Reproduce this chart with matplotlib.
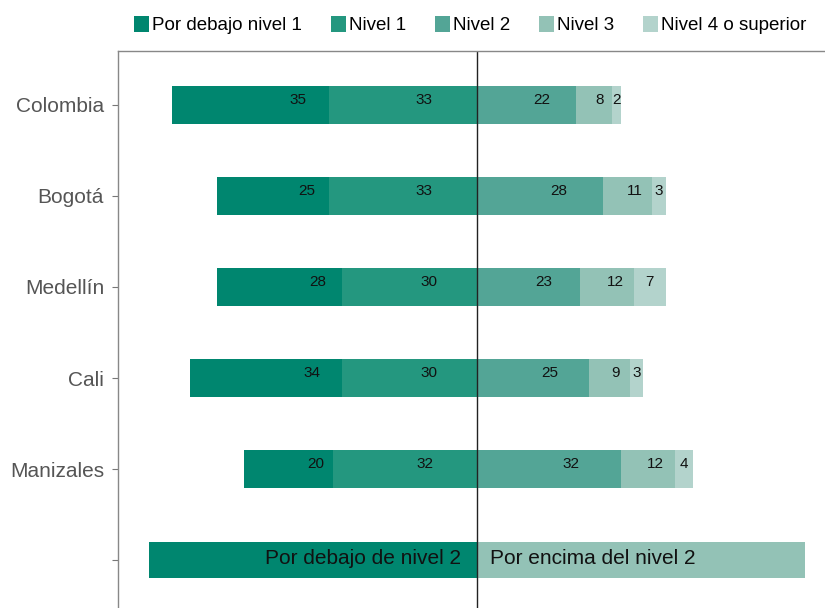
import numpy as np
import matplotlib
matplotlib.use("Agg")
import matplotlib.pyplot as plt
from matplotlib.patches import Patch

plt.rcParams['font.family'] = ['Liberation Sans', 'DejaVu Sans']

ciudades = ['Colombia', 'Bogotá', 'Medellín', 'Cali', 'Manizales']
niveles = ['Por debajo nivel 1', 'Nivel 1', 'Nivel 2', 'Nivel 3', 'Nivel 4 o superior']
colores = ['#00866f', '#24977f', '#53a596', '#93c2b6', '#b3d3cc']

bajo_n1 = [35, 25, 28, 34, 20]
nivel1 = [33, 33, 30, 30, 32]
nivel2 = [22, 28, 23, 25, 32]
nivel3 = [8, 11, 12, 9, 12]
nivel4 = [2, 3, 7, 3, 4]

resumen_txt = ['Por debajo de nivel 2', 'Por encima del nivel 2']
resumen_val = 73

fig = plt.figure(figsize=(8.25, 6.08), dpi=100)
ax = fig.add_axes([118/825, 0, 1 - 118/825, 1 - 51/608])

y = np.arange(len(ciudades))
h = 0.41

# lado izquierdo (negativo)
ax.barh(y, [-v for v in nivel1], height=h, color=colores[1])
ax.barh(y, [-v for v in bajo_n1], left=[-v for v in nivel1], height=h, color=colores[0])
# lado derecho
ax.barh(y, nivel2, height=h, color=colores[2])
ax.barh(y, nivel3, left=nivel2, height=h, color=colores[3])
izq4 = [a + b for a, b in zip(nivel2, nivel3)]
ax.barh(y, nivel4, left=izq4, height=h, color=colores[4])

kw = dict(ha='center', va='center', fontsize=11, color='#111111')
for i in range(len(ciudades)):
    yy = y[i] - 0.06
    ax.text(-nivel1[i] * 0.36, yy, str(nivel1[i]), **kw)
    ax.text(-nivel1[i] - bajo_n1[i] * 0.2, yy, str(bajo_n1[i]), **kw)
    ax.text(nivel2[i] * 0.65, yy, str(nivel2[i]), **kw)
    ax.text(nivel2[i] + nivel3[i] * 0.65, yy, str(nivel3[i]), **kw)
    ax.text(izq4[i] + nivel4[i] * 0.5, yy, str(nivel4[i]), **kw)

# barra resumen
yr = len(ciudades)
ax.barh(yr, -resumen_val, height=h * 0.95, color=colores[0])
ax.barh(yr, resumen_val, height=h * 0.95, color=colores[3])
ax.text(-3.5, yr - 0.02, resumen_txt[0], ha='right', va='center', fontsize=15, color='#111111')
ax.text(2.8, yr - 0.02, resumen_txt[1], ha='left', va='center', fontsize=15, color='#111111')

ax.axvline(0, color='#222222', lw=1)

ax.set_xlim(-80, 77.5)
ax.set_ylim(5.527, -0.593)
ax.set_yticks(list(y) + [yr])
ax.set_yticklabels(ciudades + [''])
ax.set_xticks([])
ax.tick_params(axis='y', length=4, color='#777777', labelcolor='#555555', labelsize=15, pad=6)
for s in ['right', 'bottom']:
    ax.spines[s].set_visible(False)
for s in ['left', 'top']:
    ax.spines[s].set_color('#888888')
    ax.spines[s].set_linewidth(1)

handles = [Patch(facecolor=c, edgecolor='none') for c in colores]
fig.legend(handles, niveles, loc='center', bbox_to_anchor=(470/825, 1 - 25/608), ncol=5,
           frameon=False, fontsize=13.5, handlelength=0.8, handleheight=1.0,
           handletextpad=0.15, columnspacing=1.55)

fig.savefig('out.png', dpi=100)
